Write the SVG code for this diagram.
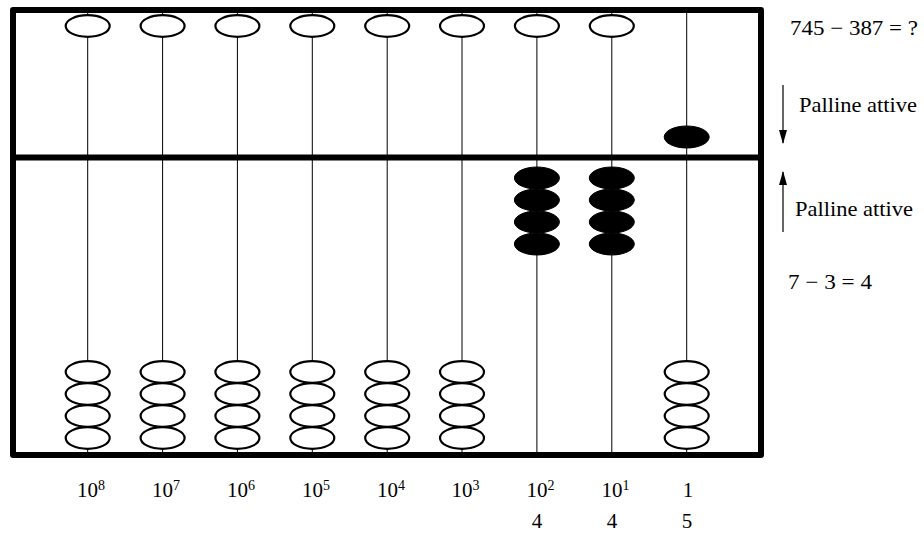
<svg xmlns="http://www.w3.org/2000/svg" width="924" height="534" viewBox="0 0 924 534">
<defs>
<style>
.frame{fill:none;stroke:#000;stroke-width:6;stroke-linejoin:round;stroke-linecap:round}
.rod{stroke:#000;stroke-width:1}
.bead{fill:#fff;stroke:#000;stroke-width:2.2}
.on{fill:#000;stroke:#000;stroke-width:1}
.t{font-family:'Liberation Serif','DejaVu Serif',serif;font-size:21px;fill:#000}
.s{font-size:14px}
.arr{stroke:#000;stroke-width:1.2}
</style>
<marker id="ah" markerWidth="14" markerHeight="8" refX="13" refY="4" orient="auto" markerUnits="userSpaceOnUse" viewBox="0 0 14 8">
<path d="M0,0 L14,4 L0,8 Z" fill="#000"/>
</marker>
</defs>
<rect id="bg" x="0" y="0" width="924" height="534" fill="#fff"/>
<g id="rods">
<line class="rod" x1="87.7" y1="10" x2="87.7" y2="455"/>
<line class="rod" x1="162.6" y1="10" x2="162.6" y2="455"/>
<line class="rod" x1="237.4" y1="10" x2="237.4" y2="455"/>
<line class="rod" x1="312.3" y1="10" x2="312.3" y2="455"/>
<line class="rod" x1="387.2" y1="10" x2="387.2" y2="455"/>
<line class="rod" x1="462" y1="10" x2="462" y2="455"/>
<line class="rod" x1="536.9" y1="10" x2="536.9" y2="455"/>
<line class="rod" x1="611.8" y1="10" x2="611.8" y2="455"/>
<line class="rod" x1="686.7" y1="10" x2="686.7" y2="455"/>
</g>
<g id="frame">
<rect class="frame" x="13" y="10" width="748" height="445"/>
<line class="frame" x1="13" y1="157.5" x2="761" y2="157.5"/>
</g>
<g id="top-beads">
<ellipse class="bead" cx="87.7" cy="26" rx="22" ry="10.8"/>
<ellipse class="bead" cx="162.6" cy="26" rx="22" ry="10.8"/>
<ellipse class="bead" cx="237.4" cy="26" rx="22" ry="10.8"/>
<ellipse class="bead" cx="312.3" cy="26" rx="22" ry="10.8"/>
<ellipse class="bead" cx="387.2" cy="26" rx="22" ry="10.8"/>
<ellipse class="bead" cx="462" cy="26" rx="22" ry="10.8"/>
<ellipse class="bead" cx="536.9" cy="26" rx="22" ry="10.8"/>
<ellipse class="bead" cx="611.8" cy="26" rx="22" ry="10.8"/>
<ellipse class="on" cx="686.7" cy="137" rx="22.5" ry="11"/>
</g>
<g id="lower-beads">
<g id="c8"><ellipse class="bead" cx="87.7" cy="372" rx="22" ry="10.8"/><ellipse class="bead" cx="87.7" cy="394" rx="22" ry="10.8"/><ellipse class="bead" cx="87.7" cy="416" rx="22" ry="10.8"/><ellipse class="bead" cx="87.7" cy="438" rx="22" ry="10.8"/></g>
<g id="c7"><ellipse class="bead" cx="162.6" cy="372" rx="22" ry="10.8"/><ellipse class="bead" cx="162.6" cy="394" rx="22" ry="10.8"/><ellipse class="bead" cx="162.6" cy="416" rx="22" ry="10.8"/><ellipse class="bead" cx="162.6" cy="438" rx="22" ry="10.8"/></g>
<g id="c6"><ellipse class="bead" cx="237.4" cy="372" rx="22" ry="10.8"/><ellipse class="bead" cx="237.4" cy="394" rx="22" ry="10.8"/><ellipse class="bead" cx="237.4" cy="416" rx="22" ry="10.8"/><ellipse class="bead" cx="237.4" cy="438" rx="22" ry="10.8"/></g>
<g id="c5"><ellipse class="bead" cx="312.3" cy="372" rx="22" ry="10.8"/><ellipse class="bead" cx="312.3" cy="394" rx="22" ry="10.8"/><ellipse class="bead" cx="312.3" cy="416" rx="22" ry="10.8"/><ellipse class="bead" cx="312.3" cy="438" rx="22" ry="10.8"/></g>
<g id="c4"><ellipse class="bead" cx="387.2" cy="372" rx="22" ry="10.8"/><ellipse class="bead" cx="387.2" cy="394" rx="22" ry="10.8"/><ellipse class="bead" cx="387.2" cy="416" rx="22" ry="10.8"/><ellipse class="bead" cx="387.2" cy="438" rx="22" ry="10.8"/></g>
<g id="c3"><ellipse class="bead" cx="462" cy="372" rx="22" ry="10.8"/><ellipse class="bead" cx="462" cy="394" rx="22" ry="10.8"/><ellipse class="bead" cx="462" cy="416" rx="22" ry="10.8"/><ellipse class="bead" cx="462" cy="438" rx="22" ry="10.8"/></g>
<g id="c2"><ellipse class="on" cx="536.9" cy="178" rx="22.5" ry="11"/><ellipse class="on" cx="536.9" cy="200" rx="22.5" ry="11"/><ellipse class="on" cx="536.9" cy="222" rx="22.5" ry="11"/><ellipse class="on" cx="536.9" cy="244" rx="22.5" ry="11"/></g>
<g id="c1"><ellipse class="on" cx="611.8" cy="178" rx="22.5" ry="11"/><ellipse class="on" cx="611.8" cy="200" rx="22.5" ry="11"/><ellipse class="on" cx="611.8" cy="222" rx="22.5" ry="11"/><ellipse class="on" cx="611.8" cy="244" rx="22.5" ry="11"/></g>
<g id="c0"><ellipse class="bead" cx="686.7" cy="372" rx="22" ry="10.8"/><ellipse class="bead" cx="686.7" cy="394" rx="22" ry="10.8"/><ellipse class="bead" cx="686.7" cy="416" rx="22" ry="10.8"/><ellipse class="bead" cx="686.7" cy="438" rx="22" ry="10.8"/></g>
</g>
<g id="arrows">
<line class="arr" x1="783" y1="85" x2="783" y2="143" marker-end="url(#ah)"/>
<line class="arr" x1="783" y1="232" x2="783" y2="172" marker-end="url(#ah)"/>
</g>
<g id="labels" class="t">
<text x="790" y="35" textLength="128" lengthAdjust="spacingAndGlyphs">745 − 387 = ?</text>
<text x="799" y="112" textLength="118" lengthAdjust="spacingAndGlyphs">Palline attive</text>
<text x="795" y="216" textLength="118" lengthAdjust="spacingAndGlyphs">Palline attive</text>
<text x="788" y="289" textLength="84" lengthAdjust="spacingAndGlyphs">7 − 3 = 4</text>
<text x="77" y="497">10<tspan class="s" dy="-7">8</tspan></text>
<text x="152" y="497">10<tspan class="s" dy="-7">7</tspan></text>
<text x="227" y="497">10<tspan class="s" dy="-7">6</tspan></text>
<text x="302" y="497">10<tspan class="s" dy="-7">5</tspan></text>
<text x="377" y="497">10<tspan class="s" dy="-7">4</tspan></text>
<text x="451.5" y="497">10<tspan class="s" dy="-7">3</tspan></text>
<text x="526.5" y="497">10<tspan class="s" dy="-7">2</tspan></text>
<text x="601.5" y="497">10<tspan class="s" dy="-7">1</tspan></text>
<text x="688" y="497" text-anchor="middle">1</text>
<text x="537" y="528" text-anchor="middle">4</text>
<text x="612" y="528" text-anchor="middle">4</text>
<text x="687" y="528" text-anchor="middle">5</text>
</g>
</svg>
